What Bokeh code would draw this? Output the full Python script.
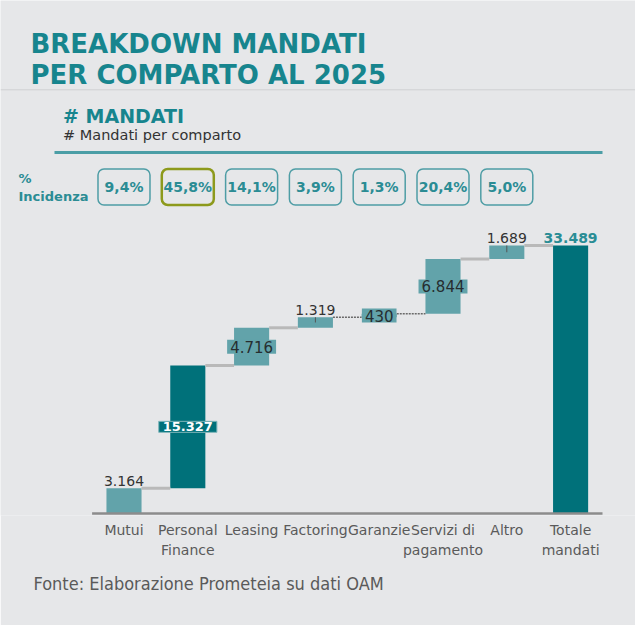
from bokeh.plotting import figure
from bokeh.models import Range1d, Label, Span, BoxAnnotation, FixedTicker, Title
from bokeh.core.properties import value
from bokeh.embed import file_html
from bokeh.resources import INLINE

# ---------------- data ----------------
categories = ["Mutui", "Personal\nFinance", "Leasing", "Factoring", "Garanzie",
              "Servizi di\npagamento", "Altro", "Totale\nmandati"]
values = [3164, 15327, 4716, 1319, 430, 6844, 1689]
total = 33489
value_labels = ["3.164", "15.327", "4.716", "1.319", "430", "6.844", "1.689"]
total_label = "33.489"
pct_labels = ["9,4%", "45,8%", "14,1%", "3,9%", "1,3%", "20,4%", "5,0%"]

# ---------------- styles ----------------
label_style = ["above", "box_dark", "box", "above_tick", "box", "box", "above_tick"]
bar_dark = [False, True, False, False, False, False, False]
connector_dotted = [False, False, False, True, True, False, False]
highlight_pct = [False, True, False, False, False, False, False]

BG = "#e6e7e9"
TEAL_TXT = "#17858e"
DARK = "#00717a"
LIGHT = "#62a3aa"
FONT = "DejaVu Sans"

W, H = 635, 625
FRAME_H = 515
BAR_W = 0.55

p = figure(width=W, height=H, x_range=Range1d(-1.9357, 8.0172),
           y_range=Range1d(-250, 64104), output_backend="svg",
           toolbar_location=None, y_axis_location=None,
           min_border_left=0, min_border_right=0, min_border_top=0,
           min_border_bottom=H - FRAME_H,
           background_fill_color=BG, border_fill_color=BG,
           outline_line_color=None)
p.grid.visible = False

# ---------------- waterfall ----------------
idx = list(range(len(values)))
bottoms, tops = [], []
cum = 0
for v in values:
    bottoms.append(cum)
    cum += v
    tops.append(cum)
mids = [(b + t) / 2 for b, t in zip(bottoms, tops)]

p.vbar(x=idx, width=BAR_W, bottom=bottoms, top=tops,
       fill_color=[DARK if d else LIGHT for d in bar_dark], line_color=None)
p.vbar(x=[len(values)], width=BAR_W, bottom=[0], top=[total],
       fill_color=DARK, line_color=None)

# axis line
p.segment(x0=[-0.5], y0=[0], x1=[len(values) + 0.5], y1=[0],
          line_color="#8c8c8c", line_width=2.5)

# connectors
sol = [i for i in idx if not connector_dotted[i]]
dot = [i for i in idx if connector_dotted[i]]
p.segment(x0=[i + BAR_W / 2 for i in sol], y0=[tops[i] for i in sol],
          x1=[i + 1 - BAR_W / 2 for i in sol], y1=[tops[i] for i in sol],
          line_color="#b9b9b9", line_width=3)
p.segment(x0=[i + BAR_W / 2 for i in dot], y0=[tops[i] for i in dot],
          x1=[i + 1 - BAR_W / 2 for i in dot], y1=[tops[i] for i in dot],
          line_color="#6a6a6a", line_width=1.5, line_dash="2 1")

# small leader ticks
tk = [i for i in idx if label_style[i] == "above_tick"]
p.segment(x0=tk, y0=[tops[i] for i in tk], x1=tk, y1=[mids[i] for i in tk],
          line_color="#555555", line_width=1)

# labels above bars
ab = [i for i in idx if label_style[i].startswith("above")]
p.text(x=ab, y=[tops[i] for i in ab], text=[value_labels[i] for i in ab],
       text_align="center", text_baseline="alphabetic", y_offset=-7,
       text_font=value(FONT), text_font_size="14px", text_color="#333333")
p.text(x=[len(values)], y=[total], text=[total_label],
       text_align="center", text_baseline="alphabetic", y_offset=-7,
       text_font=value(FONT), text_font_size="14px", text_font_style="bold",
       text_color="#2a8d95")

# boxed labels
bx = [i for i in idx if label_style[i] == "box"]
p.text(x=bx, y=[mids[i] for i in bx], text=[value_labels[i] for i in bx],
       text_align="center", text_baseline="middle",
       text_font=value(FONT), text_font_size="15px",
       text_color="#262e30", background_fill_color=LIGHT,
       border_line_color=None,
       padding=dict(left=3, right=3, top=1, bottom=1))
bd = [i for i in idx if label_style[i] == "box_dark"]
p.text(x=bd, y=[mids[i] for i in bd], text=[value_labels[i] for i in bd],
       text_align="center", text_baseline="middle",
       text_font=value(FONT), text_font_size="13px", text_font_style="bold",
       text_color="white", background_fill_color=DARK,
       border_line_color="#7fb5ba", border_line_width=1,
       padding=dict(left=4, right=4, top=1, bottom=1))

# % incidenza boxes
PCT_Y = 40800
PCT_H = 4500
p.vbar(x=idx, width=0.815, bottom=PCT_Y - PCT_H / 2, top=PCT_Y + PCT_H / 2,
       fill_alpha=0,
       line_color=["#8d9a1c" if h else "#4e9da5" for h in highlight_pct],
       line_width=[2.5 if h else 1.5 for h in highlight_pct],
       border_radius=6)
p.text(x=idx, y=PCT_Y, text=pct_labels, text_align="center",
       text_baseline="middle", text_font=value(FONT), text_font_size="14px",
       text_font_style="bold", text_color="#2b8c94")

# ---------------- axis ----------------
ax = p.xaxis[0]
ax.ticker = FixedTicker(ticks=list(range(len(categories))))
ax.major_label_overrides = {i: c for i, c in enumerate(categories)}
ax.axis_line_color = None
ax.major_tick_line_color = None
ax.minor_tick_line_color = None
ax.major_label_standoff = 0
ax.major_label_text_font = FONT
ax.major_label_text_font_size = "14px"
ax.major_label_text_color = "#5a5a5a"
ax.major_label_text_line_height = 1.3

# ---------------- header / footer ----------------
def lab(x, ybase, text, size, color, bold=False, font=FONT):
    p.add_layout(Label(x=x, y=FRAME_H - ybase, x_units="screen", y_units="screen",
                       text=text, text_font=font, text_font_size=size,
                       text_color=color, text_baseline="alphabetic",
                       text_font_style="bold" if bold else "normal"))

lab(30, 43, "BREAKDOWN MANDATI", "26px", TEAL_TXT, True)
lab(30, 74, "PER COMPARTO AL 2025", "26px", TEAL_TXT, True)
lab(62.5, 115, "# MANDATI", "19px", TEAL_TXT, True)
lab(62.5, 134, "# Mandati per comparto", "14.5px", "#333333")
lab(18, 178, "%", "13px", "#2b8c94", True)
lab(18, 196, "Incidenza", "13px", "#2b8c94", True)

p.add_layout(Span(location=FRAME_H - 89.3, location_units="screen",
                  dimension="width", line_color="#cfd0d2", line_width=1))
p.add_layout(BoxAnnotation(left=54, right=602, bottom=FRAME_H - 153.5,
                           top=FRAME_H - 150.5, left_units="screen",
                           right_units="screen", bottom_units="screen",
                           top_units="screen", fill_color="#4b9ea6",
                           fill_alpha=1, line_color=None))

footer = Title(text="Fonte: Elaborazione Prometeia su dati OAM", align="left",
               offset=33, standoff=18,
               text_font="Liberation Sans Narrow, DejaVu Sans Condensed, Roboto",
               text_font_size="18px", text_font_style="normal",
               text_color="#5a5a5a")
p.add_layout(footer, "below")

open("out.html", "w").write(file_html(p, INLINE))
